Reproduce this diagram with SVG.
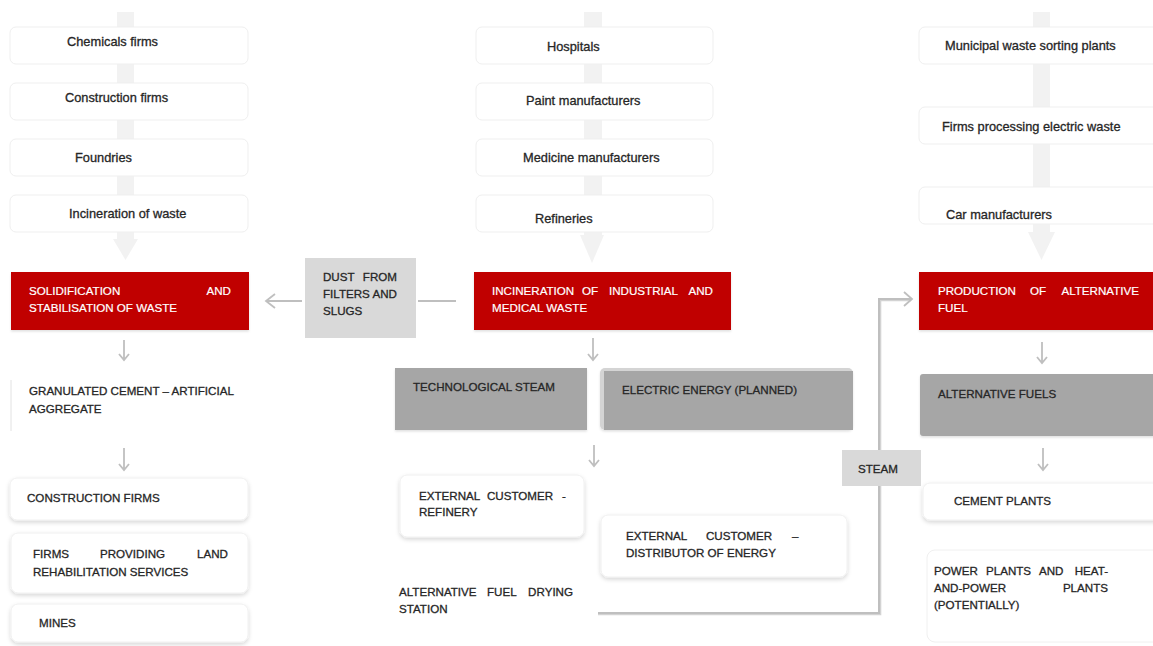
<svg xmlns="http://www.w3.org/2000/svg" width="1153" height="646" viewBox="0 0 1153 646">
<defs>
<filter id="sh" x="-10%" y="-20%" width="120%" height="150%">
<feDropShadow dx="0" dy="2" stdDeviation="2" flood-color="#000" flood-opacity="0.16"/>
</filter>
<filter id="shs" x="-10%" y="-20%" width="120%" height="150%">
<feDropShadow dx="0" dy="1.5" stdDeviation="1.2" flood-color="#000" flood-opacity="0.12"/>
</filter>
</defs>
<style>
text{font-family:"Liberation Sans",Arial,sans-serif;fill:#262626;stroke:#262626;stroke-width:0.3}
.m{font-size:12.8px}
.u{font-size:11.6px}
.w{fill:#ffffff;stroke:#ffffff;stroke-width:0.2}
.e{text-anchor:end}
.src{fill:#ffffff;stroke:#efefef;stroke-width:1}
.out{fill:#ffffff;stroke:#f0f0f0;stroke-width:1}
.red{fill:#c00000}
.lg{fill:#d9d9d9}
.dg{fill:#a6a6a6}
.bar{fill:#f2f2f2}
.con{fill:none;stroke:#bfbfbf;stroke-width:2}
.arr{fill:none;stroke:#bfbfbf;stroke-width:1.8}
</style>
<rect width="1153" height="646" fill="#ffffff"/>

<g id="background-bars">
<rect class="bar" x="117" y="12" width="17" height="228"/>
<polygon class="bar" points="113,239 138,239 125.5,260"/>
<rect class="bar" x="584" y="12" width="18" height="224"/>
<polygon class="bar" points="580,235 604,235 592,263"/>
<rect class="bar" x="1033" y="12" width="17" height="221"/>
<polygon class="bar" points="1028,232 1055,232 1041.5,260"/>
</g>

<g id="connectors">
<path class="con" d="M302,301 H267"/>
<path class="arr" d="M275,294 L266,301 L275,308"/>
<path class="con" d="M418,301 H456"/>
<path class="arr" d="M124,340 V360 M119,354 L124,360 L129,354"/>
<path class="arr" d="M124,448 V470 M119,464 L124,470 L129,464"/>
<path class="arr" d="M593,338 V360 M588,354 L593,360 L598,354"/>
<path class="arr" d="M594,445 V466 M589,460 L594,466 L599,460"/>
<path class="arr" d="M1042,342 V363 M1037,357 L1042,363 L1047,357"/>
<path class="arr" d="M1043,448 V470 M1038,464 L1043,470 L1048,464"/>
<path d="M598,614 H880 V300 H911" fill="none" stroke="#a8a8a8" stroke-width="2.6" opacity="0.5"/>
<path class="con" d="M598,613 H879 V299 H911"/>
<path class="arr" d="M904,292 L912,299 L904,306"/>
</g>

<g id="n-chemicals"><rect class="src" x="10" y="27" width="238" height="37" rx="6"/><text class="m" x="67" y="46">Chemicals firms</text></g>
<g id="n-construction"><rect class="src" x="10" y="83" width="238" height="37" rx="6"/><text class="m" x="65" y="102">Construction firms</text></g>
<g id="n-foundries"><rect class="src" x="10" y="139" width="238" height="37" rx="6"/><text class="m" x="75" y="162">Foundries</text></g>
<g id="n-incineration-waste"><rect class="src" x="10" y="195" width="238" height="37" rx="6"/><text class="m" x="69" y="218">Incineration of waste</text></g>

<g id="n-solidification"><rect class="red" x="11" y="272" width="238" height="58" filter="url(#shs)"/>
<text class="u w" x="29" y="295">SOLIDIFICATION</text><text class="u w e" x="231" y="295">AND</text>
<text class="u w" x="29" y="312">STABILISATION OF WASTE</text></g>

<g id="n-dust"><rect class="lg" x="305" y="258" width="111" height="80"/>
<text class="u" x="323" y="281">DUST</text><text class="u e" x="397" y="281">FROM</text>
<text class="u" x="323" y="298">FILTERS</text><text class="u e" x="397" y="298">AND</text>
<text class="u" x="323" y="315">SLUGS</text></g>

<g id="n-granulated"><line x1="11" y1="380" x2="11" y2="431" stroke="#e2e2e2" stroke-width="1"/>
<text class="u" x="29" y="395">GRANULATED CEMENT – ARTIFICIAL</text>
<text class="u" x="29" y="413">AGGREGATE</text></g>

<g id="n-construction-firms"><rect class="out" x="10" y="478" width="238" height="42" rx="7" filter="url(#sh)"/><text class="u" x="27" y="502">CONSTRUCTION FIRMS</text></g>
<g id="n-land"><rect class="out" x="11" y="533" width="237" height="60" rx="7" filter="url(#sh)"/>
<text class="u" x="33" y="558">FIRMS</text><text class="u" x="100" y="558">PROVIDING</text><text class="u e" x="228" y="558">LAND</text>
<text class="u" x="33" y="576">REHABILITATION SERVICES</text></g>
<g id="n-mines"><rect class="out" x="11" y="604" width="237" height="38" rx="7" filter="url(#sh)"/><text class="u" x="39" y="627">MINES</text></g>

<g id="n-hospitals"><rect class="src" x="476" y="27" width="237" height="37" rx="6"/><text class="m" x="547" y="51">Hospitals</text></g>
<g id="n-paint"><rect class="src" x="476" y="83" width="237" height="37" rx="6"/><text class="m" x="526" y="105">Paint manufacturers</text></g>
<g id="n-medicine"><rect class="src" x="476" y="139" width="237" height="37" rx="6"/><text class="m" x="523" y="162">Medicine manufacturers</text></g>
<g id="n-refineries"><rect class="src" x="476" y="195" width="237" height="37" rx="6"/><text class="m" x="535" y="223">Refineries</text></g>

<g id="n-incineration"><rect class="red" x="474" y="272" width="257" height="58" filter="url(#shs)"/>
<text class="u w" x="492" y="295">INCINERATION</text><text class="u w" x="582" y="295">OF</text><text class="u w" x="609" y="295">INDUSTRIAL</text><text class="u w e" x="713" y="295">AND</text>
<text class="u w" x="492" y="312">MEDICAL WASTE</text></g>

<g id="n-tech-steam"><rect class="dg" x="395" y="368" width="192" height="62" filter="url(#shs)"/><text class="u" x="413" y="391">TECHNOLOGICAL STEAM</text></g>
<g id="n-electric"><rect x="600" y="368" width="253" height="62" rx="5" fill="#d4d4d4" filter="url(#shs)"/><rect class="dg" x="604" y="371" width="249" height="59"/><text class="u" x="622" y="394">ELECTRIC ENERGY (PLANNED)</text></g>

<g id="n-ext-refinery"><rect class="out" x="400" y="475" width="184" height="62" rx="7" filter="url(#sh)"/>
<text class="u" x="419" y="500">EXTERNAL</text><text class="u" x="487" y="500">CUSTOMER</text><text class="u" x="562" y="500">-</text>
<text class="u" x="419" y="516">REFINERY</text></g>
<g id="n-ext-distributor"><rect class="out" x="601" y="515" width="246" height="62" rx="7" filter="url(#sh)"/>
<text class="u" x="626" y="540">EXTERNAL</text><text class="u" x="706" y="540">CUSTOMER</text><text class="u" x="792" y="540">–</text>
<text class="u" x="626" y="557">DISTRIBUTOR OF ENERGY</text></g>
<g id="n-drying"><text class="u" x="399" y="596">ALTERNATIVE</text><text class="u" x="487" y="596">FUEL</text><text class="u e" x="573" y="596">DRYING</text>
<text class="u" x="399" y="613">STATION</text></g>

<g id="n-steam"><rect class="lg" x="842" y="450" width="79" height="36"/><text class="u" x="858" y="473">STEAM</text></g>

<g id="n-municipal"><rect class="src" x="919" y="27" width="240" height="37" rx="6"/><text class="m" x="945" y="50">Municipal waste sorting plants</text></g>
<g id="n-electric-waste"><rect class="src" x="919" y="107" width="240" height="37" rx="6"/><text class="m" x="942" y="131">Firms processing electric waste</text></g>
<g id="n-car"><rect class="src" x="919" y="187" width="240" height="37" rx="6"/><text class="m" x="946" y="219">Car manufacturers</text></g>

<g id="n-production"><rect class="red" x="919" y="272" width="240" height="58" filter="url(#shs)"/>
<text class="u w" x="938" y="295">PRODUCTION</text><text class="u w" x="1030" y="295">OF</text><text class="u w e" x="1139" y="295">ALTERNATIVE</text>
<text class="u w" x="938" y="312">FUEL</text></g>

<g id="n-alt-fuels"><rect class="dg" x="920" y="374" width="240" height="62" rx="3" filter="url(#shs)"/><text class="u" x="938" y="398">ALTERNATIVE FUELS</text></g>

<g id="n-cement"><rect class="out" x="923" y="483" width="240" height="37" rx="7" filter="url(#sh)"/><text class="u" x="954" y="505">CEMENT PLANTS</text></g>
<g id="n-power"><rect x="927" y="550" width="240" height="92" rx="8" fill="#ffffff" stroke="#f0f0f0"/>
<text class="u" x="934" y="575">POWER</text><text class="u" x="986" y="575">PLANTS</text><text class="u" x="1039" y="575">AND</text><text class="u e" x="1108" y="575">HEAT-</text>
<text class="u" x="934" y="592">AND-POWER</text><text class="u e" x="1108" y="592">PLANTS</text>
<text class="u" x="934" y="609">(POTENTIALLY)</text></g>
</svg>
